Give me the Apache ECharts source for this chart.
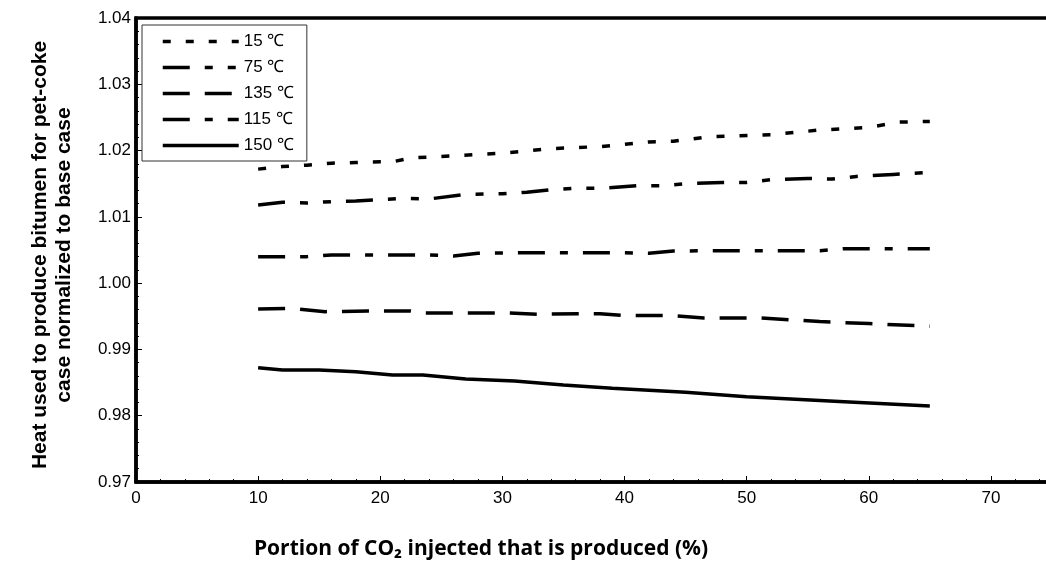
<!DOCTYPE html>
<html>
<head>
<meta charset="utf-8">
<script src="https://cdn.jsdelivr.net/npm/echarts@6/dist/echarts.min.js"></script>
<style>
html,body{margin:0;padding:0;background:#fff;}
#chart{width:1046px;height:572px;}
</style>
</head>
<body>
<div id="chart"></div>
<script>
// Series names (legend order)
const seriesNames = ['15 ℃', '75 ℃', '135 ℃', '115 ℃', '150 ℃'];

// 15 ℃
const x15 = [10, 12, 14, 16, 18, 20, 21, 22.5, 26, 30, 34, 38, 42, 44, 47, 52, 56, 60, 62.5, 65];
const y15 = [1.0172, 1.0176, 1.0178, 1.0181, 1.0182, 1.0183, 1.0183, 1.0189, 1.0192, 1.0196, 1.0203, 1.0206, 1.0213, 1.0214, 1.0221, 1.0224, 1.0231, 1.0235, 1.0243, 1.0244];

// 75 ℃
const x75 = [10, 12, 14, 16, 18, 20, 22, 24, 27, 30, 32, 34, 36, 38, 41, 43, 45, 48, 50, 52, 55, 57, 59, 62, 65];
const y75 = [1.0118, 1.0122, 1.0121, 1.0123, 1.0124, 1.0126, 1.0128, 1.0127, 1.0134, 1.0135, 1.0137, 1.0141, 1.0143, 1.0143, 1.0147, 1.0147, 1.0150, 1.0152, 1.0152, 1.0156, 1.0158, 1.0157, 1.0161, 1.0164, 1.0167];

// 135 ℃
const x135 = [10, 12.5, 15.5, 19, 22.5, 23.5, 30.5, 33, 36.5, 38, 40, 44, 46.5, 51, 56, 60, 65];
const y135 = [0.9961, 0.9962, 0.9957, 0.9958, 0.9958, 0.9955, 0.9955, 0.9953, 0.9954, 0.9954, 0.9951, 0.9951, 0.99475, 0.99475, 0.9942, 0.9939, 0.9935];

// 115 ℃
const x115 = [10, 14, 16, 20, 24, 26, 28, 32, 36, 40, 42, 44, 48, 52, 56, 58, 62, 65];
const y115 = [1.0040, 1.0040, 1.00425, 1.00425, 1.00425, 1.0041, 1.0045, 1.0046, 1.0046, 1.0046, 1.0045, 1.00485, 1.0049, 1.0049, 1.0049, 1.0052, 1.0052, 1.0052];

// 150 ℃
const x150 = [10, 12, 15, 18, 21, 23.5, 27, 31, 35, 39, 45, 50, 58, 65];
const y150 = [0.98725, 0.9869, 0.9869, 0.98665, 0.98615, 0.98615, 0.98555, 0.98525, 0.98465, 0.98414, 0.98354, 0.98287, 0.98212, 0.98147];

const xTitle = 'Portion of CO₂ injected that is produced (%)';
const yTitle = 'Heat used to produce bitumen for pet-coke\ncase normalized to base case';

const xs = [x15, x75, x135, x115, x150];
const ys = [y15, y75, y135, y115, y150];
const dashes = [[8, 15], [27, 15, 8, 15, 8, 15], [27, 15], [27, 15, 8, 15], 'solid'];

const zip = (a, b) => a.map((v, i) => [v, b[i]]);

const chart = echarts.init(document.getElementById('chart'));
chart.setOption({
  animation: false,
  backgroundColor: '#fff',
  grid: {
    left: 136, top: 18, width: 977, bottom: 90,
    outerBoundsMode: 'none',
    containLabel: false,
    show: true, borderColor: '#000', borderWidth: 3.5
  },
  legend: {
    orient: 'vertical',
    left: 142, top: 25,
    padding: [8, 13, 7, 19],
    itemGap: 9,
    itemWidth: 76,
    itemHeight: 14,
    borderColor: '#333', borderWidth: 1,
    backgroundColor: '#fff',
    itemStyle: { opacity: 0 },
    lineStyle: { width: 3.5 },
    textStyle: { fontFamily: 'Liberation Sans, Arial, sans-serif', fontSize: 17, color: '#000' },
    data: seriesNames
  },
  xAxis: {
    type: 'value', min: 0, max: 80, interval: 10,
    name: xTitle,
    nameLocation: 'middle',
    nameGap: 57,
    nameTextStyle: {
      fontFamily: 'Open Sans, sans-serif', fontWeight: 'bold', fontSize: 21, color: '#000',
      padding: [0, 287, 0, 0]
    },
    axisLine: { lineStyle: { color: '#000', width: 3.5 } },
    axisTick: { inside: true, length: 6, lineStyle: { color: '#000', width: 1 } },
    minorTick: { show: true, splitNumber: 5, length: 3, lineStyle: { color: '#000', width: 1 } },
    axisLabel: { fontFamily: 'Liberation Sans, Arial, sans-serif', fontSize: 17, color: '#000', margin: 8 },
    splitLine: { show: false }
  },
  yAxis: {
    type: 'value', min: 0.97, max: 1.04, interval: 0.01,
    name: yTitle,
    nameLocation: 'middle',
    nameGap: 60,
    nameTextStyle: {
      fontFamily: 'Liberation Sans, Arial, sans-serif', fontWeight: 'bold', fontSize: 21, color: '#000',
      lineHeight: 24, align: 'center', padding: [0, 10, 0, 0]
    },
    axisLine: { lineStyle: { color: '#000', width: 3.5 } },
    axisTick: { inside: true, length: 6, lineStyle: { color: '#000', width: 1 } },
    minorTick: { show: true, splitNumber: 5, length: 3, lineStyle: { color: '#000', width: 1 } },
    axisLabel: {
      fontFamily: 'Liberation Sans, Arial, sans-serif', fontSize: 17, color: '#000', margin: 5,
      formatter: v => v.toFixed(2)
    },
    splitLine: { show: false }
  },
  series: seriesNames.map((n, i) => ({
    name: n,
    type: 'line',
    symbol: 'none',
    data: zip(xs[i], ys[i]),
    lineStyle: { color: '#000', width: 3.5, type: dashes[i] },
    itemStyle: { color: '#000' }
  }))
});
</script>
</body>
</html>
